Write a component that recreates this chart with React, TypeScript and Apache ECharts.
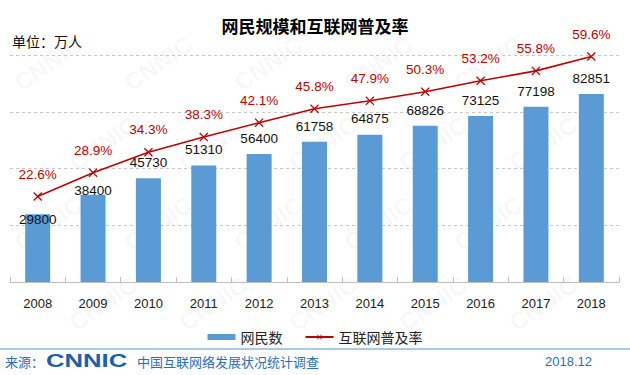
import React, { useEffect, useRef } from "react";
import * as echarts from "echarts";

const years = ["2008", "2009", "2010", "2011", "2012", "2013", "2014", "2015", "2016", "2017", "2018"];
const netizens = [29800, 38400, 45730, 51310, 56400, 61758, 64875, 68826, 73125, 77198, 82851];
const penetration = [22.6, 28.9, 34.3, 38.3, 42.1, 45.8, 47.9, 50.3, 53.2, 55.8, 59.6];
const barLabelShift = [21, 11, 0, 0, 0, 0, 0, 0, 0, 0, 0];

const FONT = '"Liberation Sans", Arial, "Noto Sans CJK SC", sans-serif';
const CJK = '"Noto Sans CJK SC", "Liberation Sans", sans-serif';

const xMark = "path://M0,1L1,0L5,4L9,0L10,1L6,5L10,9L9,10L5,6L1,10L0,9L4,5Z";

export default function App() {
  const ref = useRef<HTMLDivElement>(null);
  useEffect(() => {
    if (!ref.current) return;
    const chart = echarts.init(ref.current, null, { renderer: "svg" });

    const watermarks: any[] = [];
    for (let r = 0; r < 4; r++) {
      for (let c = 0; c < 6; c++) {
        const x = c * 110 + 10 + (r % 2) * 55;
        const y = r * 80 + 75;
        if (x + 75 > 625) continue;
        watermarks.push({
          type: "text",
          x,
          y,
          rotation: 0.6,
          z: 0,
          silent: true,
          style: {
            text: "CNNIC",
            fill: "rgba(0,0,0,0.035)",
            font: 'bold 24px "Liberation Sans", Arial, sans-serif',
          },
        });
      }
    }

    chart.setOption({
      animation: false,
      backgroundColor: "#ffffff",
      title: {
        text: "网民规模和互联网普及率",
        left: "center",
        top: 12,
        textStyle: { fontFamily: CJK, fontSize: 17, fontWeight: "bold", color: "#000" },
      },
      legend: {
        top: 325,
        left: "center",
        itemWidth: 28,
        itemHeight: 6,
        itemGap: 22,
        textStyle: { fontFamily: CJK, fontSize: 14, color: "#222" },
        data: [
          { name: "网民数", icon: "rect" },
          { name: "互联网普及率" },
        ],
      },
      grid: { left: 10, right: 11, top: 55, bottom: 93, containLabel: false },
      xAxis: {
        type: "category",
        data: years,
        axisLine: { lineStyle: { color: "#bfbfbf", width: 1 } },
        axisTick: { show: true, inside: true, length: 5, lineStyle: { color: "#bfbfbf" } },
        axisLabel: { fontFamily: FONT, fontSize: 13, color: "#222", margin: 15 },
      },
      yAxis: [
        {
          type: "value",
          min: 0,
          max: 100000,
          interval: 25000,
          axisLabel: { show: false },
          axisLine: { show: false },
          axisTick: { show: false },
          splitLine: { lineStyle: { color: "#c8c8c8", type: [3, 3] } },
        },
        {
          type: "value",
          min: 0,
          max: 60,
          interval: 15,
          axisLabel: { show: false },
          axisLine: { show: false },
          axisTick: { show: false },
          splitLine: { show: false },
        },
      ],
      series: [
        {
          name: "网民数",
          type: "bar",
          yAxisIndex: 0,
          barWidth: 25,
          itemStyle: { color: "#5b9bd5" },
          z: 2,
          label: {
            show: true,
            position: "top",
            distance: 9,
            fontFamily: FONT,
            fontSize: 13.5,
            color: "#111",
          },
          data: netizens.map((v, i) => ({
            value: v,
            label: barLabelShift[i] ? { offset: [0, barLabelShift[i]] } : undefined,
          })),
        },
        {
          name: "互联网普及率",
          type: "line",
          yAxisIndex: 1,
          symbol: xMark,
          symbolSize: 9,
          z: 3,
          lineStyle: { color: "#c00000", width: 1.6 },
          itemStyle: { color: "#c00000" },
          label: {
            show: true,
            position: "top",
            distance: 11,
            fontFamily: FONT,
            fontSize: 13.5,
            color: "#c00000",
            formatter: (p: any) => p.value + "%",
          },
          data: penetration,
        },
      ],
      graphic: [
        ...watermarks,
        {
          type: "text",
          left: 12,
          top: 34,
          z: 10,
          style: { text: "单位：万人", font: '14px "Noto Sans CJK SC", sans-serif', fill: "#111" },
        },
        {
          type: "line",
          z: 10,
          shape: { x1: 0, y1: 349, x2: 630, y2: 349 },
          style: { stroke: "#5b8fcf", lineWidth: 1.2 },
        },
        {
          type: "text",
          x: 5,
          y: 361,
          z: 10,
          style: {
            text: "来源：",
            font: '13px "Noto Sans CJK SC", sans-serif',
            fill: "#2a6ebb",
            verticalAlign: "middle",
          },
        },
        {
          type: "text",
          x: 46,
          y: 361,
          scaleX: 1.35,
          z: 10,
          style: {
            text: "CNNIC",
            font: 'bold 19px "Liberation Sans", Arial, sans-serif',
            fill: "#1d5fae",
            verticalAlign: "middle",
          },
        },
        {
          type: "text",
          x: 137,
          y: 361,
          z: 10,
          style: {
            text: "中国互联网络发展状况统计调查",
            font: '13px "Noto Sans CJK SC", sans-serif',
            fill: "#2a6ebb",
            verticalAlign: "middle",
          },
        },
        {
          type: "text",
          x: 592,
          y: 361,
          z: 10,
          style: {
            text: "2018.12",
            font: '13px "Liberation Sans", Arial, sans-serif',
            fill: "#2a6ebb",
            verticalAlign: "middle",
            align: "right",
          },
        },
      ],
    });
    return () => chart.dispose();
  }, []);
  return (
    <div
      ref={ref}
      style={{ position: "absolute", left: 0, top: 0, width: 630, height: 375 }}
    />
  );
}
